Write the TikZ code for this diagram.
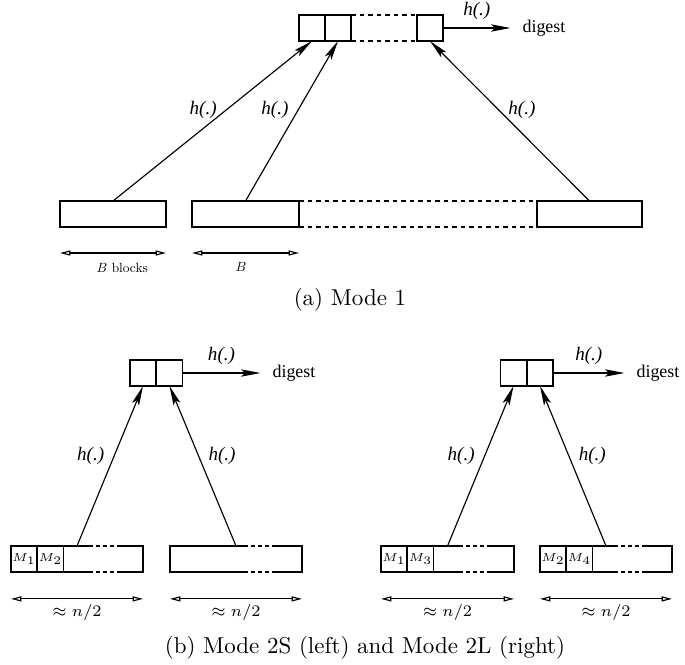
\documentclass[tikz,border=0pt]{standalone}
\usepackage{fontspec}
\newfontfamily\tmsfont{Liberation Serif}
\usetikzlibrary{arrows.meta}

\def\pxu{0.435pt}

\begin{document}
\begin{tikzpicture}[x=\pxu,y=-\pxu,line width=0.5pt,
    cell/.style={draw,minimum width=26*\pxu,minimum height=26*\pxu,inner sep=0pt,outer sep=0pt,font=\fontsize{5.4}{6}\selectfont},
    blk/.style={draw,minimum height=26*\pxu,inner sep=0pt,outer sep=0pt},
    hash/.style={-{Stealth[length=8.5pt,width=3.2pt,inset=1.8pt]}},
    span/.style={{Triangle[open,length=4.5pt,width=2.2pt]}-{Triangle[open,length=4.5pt,width=2.2pt]}},
    hl/.style={font={\tmsfont\itshape\fontsize{8.3}{10}\selectfont},inner sep=1pt},
    dg/.style={font={\tmsfont\fontsize{7.8}{9}\selectfont},inner sep=0pt,anchor=west},
    gap/.style={dash pattern=on 1.7pt off 1.3pt,dash phase=1.7pt},
    dots/.style={dash pattern=on 2pt off 1.7pt}]
  \useasboundingbox (0,0) rectangle (685,664);

  % (a) mode 1
  \foreach \x [count=\i] in {312,338,430} {\node[cell] (c\i) at (\x,28) {};}
  \draw[dots] (c2.north east) -- (c3.north west) (c2.south east) -- (c3.south west);
  \node[dg] (dg1) at (522,28) {digest};
  \draw[hash] (c3.east) -- ([xshift=-5pt]dg1.west) node[midway,above=2.5pt,hl] {h(.)};
  \foreach \x/\w [count=\i] in {113/106,245.5/107,589.5/105} {\node[blk,minimum width=\w*\pxu] (b\i) at (\x,214) {};}
  \draw[dots] (b2.north east) -- (b3.north west) (b2.south east) -- (b3.south west);
  \foreach \i/\sd in {1/left,2/left,3/right} {\draw[hash] (b\i.north) -- (c\i.south) node[pos=.57,\sd=3pt,hl] {h(.)};}
  \draw[span] ([yshift=-11.3pt]b1.south west) -- ([yshift=-11.3pt]b1.south east)
    node[midway,below=3pt,xshift=4pt,inner sep=1pt] {\scalebox{0.58}{$B$ blocks}};
  \draw[span] ([yshift=-11.3pt]b2.south west) -- ([yshift=-11.3pt]b2.south east)
    node[midway,below=3pt,xshift=-2pt,inner sep=1pt] {\scalebox{0.58}{$B$}};
  \node (capa) at (350,300) {(a) Mode 1};

  % (b) mode 2S (left) and mode 2L (right)
  \foreach \x [count=\i] in {143,169.5} {\node[cell] (d\i) at (\x,373) {};}
  \foreach \x [count=\i] in {513.5,540} {\node[cell] (e\i) at (\x,373) {};}
  \node[dg] (dg2) at (272,373) {digest};
  \node[dg] (dg3) at (636,373) {digest};
  \draw[hash] (d2.east) -- ([xshift=-5pt]dg2.west) node[midway,above=2.5pt,hl] {h(.)};
  \draw[hash] (e2.east) -- ([xshift=-5pt]dg3.west) node[midway,above=2.5pt,hl] {h(.)};
  \foreach \n/\x/\w in {l1/77/132,l2/236/132,r1/447.5/133,r2/606/132} {\node[blk,minimum width=\w*\pxu] (\n) at (\x,559) {};}
  \foreach \m/\x in {1/24,2/50.5} {\node[cell] (lm\m) at (\x,559) {$M_{\m}$};}
  \node[cell] (rm1) at (394,559) {$M_1$};
  \node[cell] (rm3) at (420.5,559) {$M_3$};
  \node[cell] (rm2) at (553,559) {$M_2$};
  \node[cell] (rm4) at (579.5,559) {$M_4$};
  \foreach \a in {93,248,463,618} \foreach \y in {546,572} {
    \draw[white,line width=1.2pt] (\a,\y) -- ++(25,0);
    \draw[gap] (\a,\y) -- ++(25,0);}
  \foreach \src/\dst/\sd in {l1/d1/left,l2/d2/right,r1/e1/left,r2/e2/right} {\draw[hash] (\src.north) -- (\dst.south) node[pos=.56,\sd=3pt,hl] {h(.)};}
  \foreach \b in {l1,l2,r1,r2} {\draw[span] ([yshift=-11.7pt]\b.south west) -- ([yshift=-11.7pt]\b.south east)
    node[midway,below=1pt,inner sep=1pt,font=\fontsize{6.8}{8}\selectfont] {$\approx n/2$};}
  \node (capb) at (365,648) {(b) Mode 2S (left) and Mode 2L (right)};
\end{tikzpicture}
\end{document}
